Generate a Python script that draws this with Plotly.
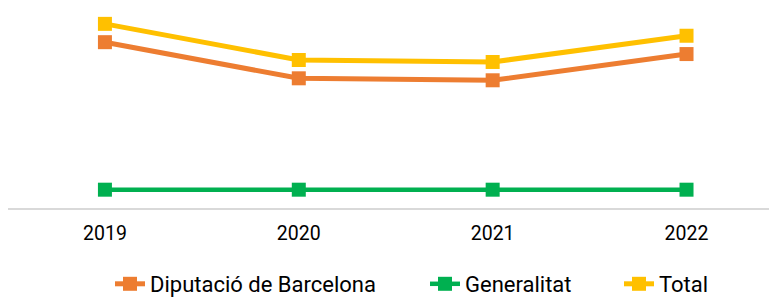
import plotly.graph_objects as go

years = ["2019", "2020", "2021", "2022"]
diputacio = [167.5, 131.0, 129.0, 155.5]
generalitat = [18.5, 18.5, 18.5, 18.5]
total = [186.0, 149.5, 147.5, 174.0]

series = [
    ("Diputació de Barcelona", diputacio, "#ED7D31", 5, "legend"),
    ("Generalitat", generalitat, "#00B050", 4.5, "legend2"),
    ("Total", total, "#FFC000", 5, "legend3"),
]

FONT = "Roboto, sans-serif"
W = 777.0

fig = go.Figure()
for name, vals, col, w, lg in series:
    fig.add_trace(go.Scatter(
        x=years, y=vals, name=name, mode="lines+markers",
        line=dict(color=col, width=w),
        marker=dict(symbol="square", size=14, color=col),
        legend=lg,
    ))

def leg(xpx):
    return dict(orientation="h", x=xpx / W, xanchor="left", y=-0.385, yanchor="middle",
                font=dict(family=FONT, size=22, color="#000000"),
                bgcolor="rgba(0,0,0,0)")

fig.update_layout(
    width=777, height=297,
    margin=dict(l=0, r=0, t=2, b=95),
    paper_bgcolor="white", plot_bgcolor="white",
    font=dict(family=FONT, size=19.5, color="#000000"),
    showlegend=True,
    legend=leg(102), legend2=leg(417), legend3=leg(611),
    xaxis=dict(type="category", range=[-0.5, 3.508], showgrid=False,
               showline=True, linecolor="#D9D9D9", linewidth=2,
               ticks="outside", ticklen=7, tickcolor="rgba(0,0,0,0)",
               tickfont=dict(family=FONT, size=19.5, color="#000000"), zeroline=False),
    yaxis=dict(range=[0, 200], visible=False, showgrid=False, zeroline=False),
)

fig.write_html("out.html")
